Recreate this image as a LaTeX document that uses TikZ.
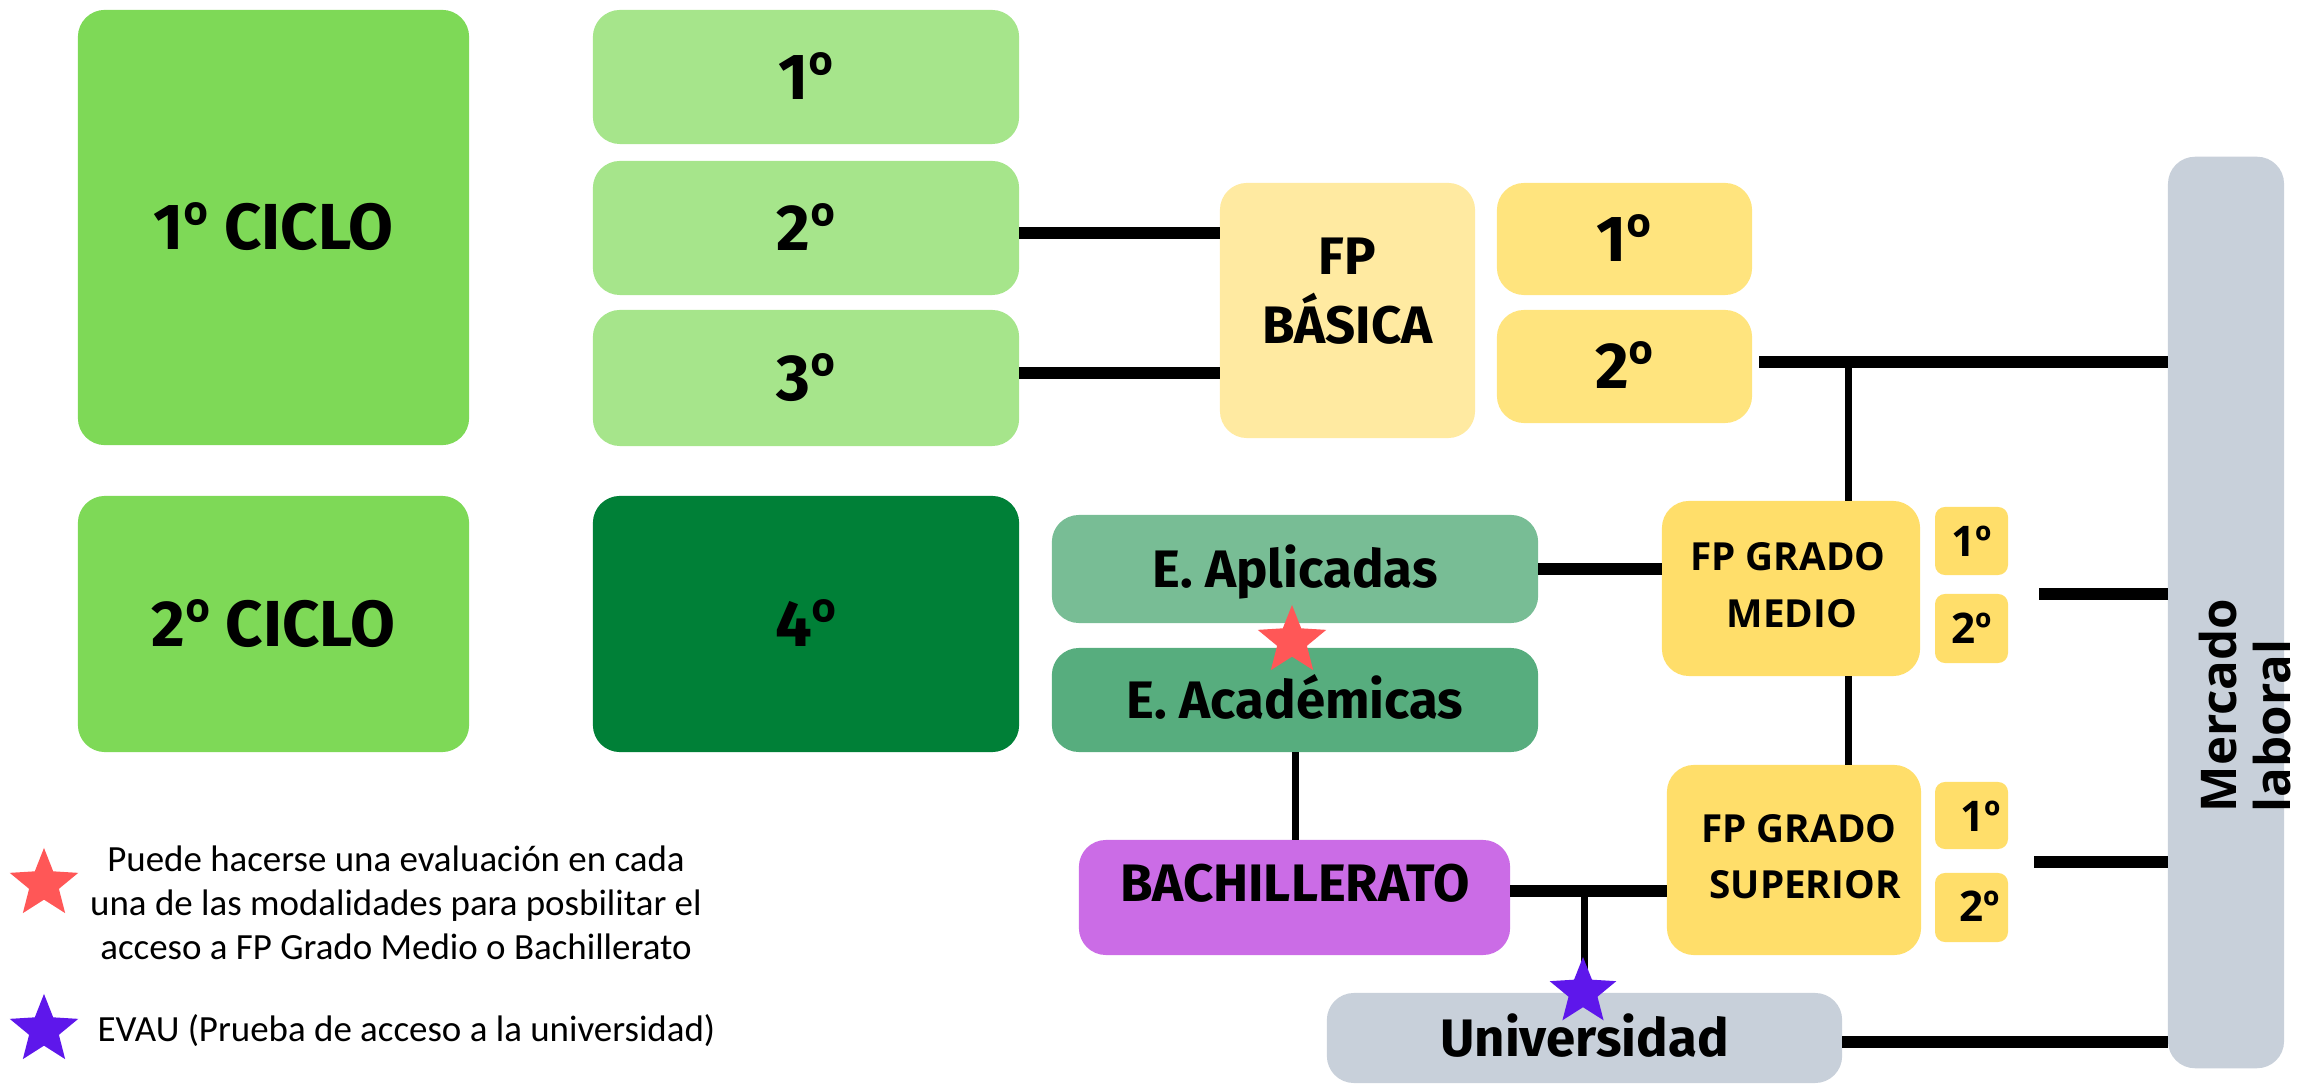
\documentclass[tikz,border=0pt]{standalone}
\usepackage{fontspec}
\setmainfont{Fira Sans}
\newfontfamily\osans{Open Sans}
\newfontfamily\carl{Carlito}
\newcommand\myord{{\osans º}}
\usetikzlibrary{shapes.geometric,calc}
\definecolor{cicloG}{HTML}{7ED957}
\definecolor{lightG}{HTML}{A6E58B}
\definecolor{darkG}{HTML}{008037}
\definecolor{aplG}{HTML}{78BD95}
\definecolor{acaG}{HTML}{57AD7E}
\definecolor{fpbY}{HTML}{FFEAA1}
\definecolor{fpbYb}{HTML}{FFE47E}
\definecolor{gmY}{HTML}{FFDE6A}
\definecolor{purpleB}{HTML}{CB6CE6}
\definecolor{grayB}{HTML}{C8D0DA}
\definecolor{redS}{HTML}{FF5757}
\definecolor{purS}{HTML}{5E17EB}
\begin{document}
\begin{tikzpicture}[x=0.01cm,y=-0.01cm,
  box/.style={rectangle, rounded corners=0.27cm, draw=none, inner sep=0pt, outer sep=0pt},
  smallbox/.style={rectangle, rounded corners=0.1cm, draw=none, inner sep=0pt, outer sep=0pt, fill=gmY, minimum width=0.73cm},
  big/.style={font=\bfseries\fontsize{18.5}{20}\selectfont, text height=12.7pt, text depth=0pt},
  mid/.style={font=\bfseries\fontsize{15}{18}\selectfont, text height=10.3pt, text depth=0pt, inner sep=0pt},
  wide/.style={font=\osans\bfseries\fontsize{11}{13}\selectfont, text height=7.9pt, text depth=0pt, inner sep=0pt},
  sm/.style={font=\osans\bfseries\fontsize{12}{14}\selectfont, text height=8.6pt, text depth=0pt, inner sep=0pt},
  merc/.style={font=\osans\bfseries\fontsize{14}{16}\selectfont, inner sep=0pt},
  leg/.style={font=\carl\fontsize{10.5}{12.6}\selectfont, inner sep=0pt},
  thickline/.style={line width=0.115cm},
  thinline/.style={line width=0.07cm},
  starR/.style={star, star points=5, star point ratio=2.3, inner sep=0pt, minimum size=0.72cm, fill=redS, draw=none},
  starP/.style={star, star points=5, star point ratio=2.3, inner sep=0pt, minimum size=0.72cm, fill=purS, draw=none},
]
\useasboundingbox (0,0) rectangle (2300,1086);

% boxes
\node[box, fill=cicloG, minimum width=3.91cm, minimum height=4.35cm, big] (c1) at (273.5,227.5) {1\myord{} CICLO};
\node[box, fill=cicloG, minimum width=3.91cm, minimum height=2.56cm, big] (c2) at (273.5,624) {2\myord{} CICLO};
\node[box, fill=lightG, minimum width=4.26cm, minimum height=1.34cm, big] (e1) at (806,77) {1\myord};
\node[box, fill=lightG, minimum width=4.26cm, minimum height=1.34cm, big] (e2) at (806,228) {2\myord};
\node[box, fill=lightG, minimum width=4.26cm, minimum height=1.36cm, big] (e3) at (806,378) {3\myord};
\node[box, fill=darkG, minimum width=4.26cm, minimum height=2.56cm, big] (e4) at (806,624) {4\myord};
\node[box, fill=fpbY, minimum width=2.55cm, minimum height=2.55cm] (fpb) at (1347.5,310.5) {};
\node[box, fill=fpbYb, minimum width=2.55cm, minimum height=1.12cm, big] (fpb1) at (1624.5,239) {1\myord};
\node[box, fill=fpbYb, minimum width=2.55cm, minimum height=1.13cm, big] (fpb2) at (1624.5,366.5) {2\myord};
\node[box, fill=aplG, minimum width=4.86cm, minimum height=1.08cm, mid] (apl) at (1295,569) {E. Aplicadas};
\node[box, fill=acaG, minimum width=4.86cm, minimum height=1.04cm, mid] (aca) at (1295,700) {E. Académicas};
\node[box, fill=purpleB, minimum width=4.31cm, minimum height=1.15cm] (bach) at (1294.5,897.5) {};
\node[box, fill=gmY, minimum width=2.58cm, minimum height=1.75cm] (gm) at (1791,588.5) {};
\node[smallbox, minimum height=0.68cm, sm] (gm1) at (1971.5,541) {1º};
\node[smallbox, minimum height=0.69cm, sm] (gm2) at (1971.5,628.5) {2º};
\node[box, fill=gmY, minimum width=2.54cm, minimum height=1.90cm] (gs) at (1794,860) {};
\node[smallbox, minimum height=0.67cm] (gs1) at (1971.5,815.5) {};
\node[smallbox, minimum height=0.69cm] (gs2) at (1971.5,907.5) {};
\node[box, fill=grayB, minimum width=5.15cm, minimum height=0.90cm, mid] (uni) at (1584.5,1038) {Universidad};
\node[box, fill=grayB, minimum width=1.16cm, minimum height=9.11cm] (mer) at (2226,612.5) {};

% texts
\node[mid] (fpbA) at (1347.5,256) {FP};
\node[mid] (fpbB) at (1347.5,325) {BÁSICA};
\node[mid] (bachT) at (1295,883) {BACHILLERATO};
\node[wide] (gmA) at (1788,557) {FP GRADO};
\node[wide] (gmB) at (1792,614) {MEDIO};
\node[wide] (gsA) at (1799,828.5) {FP GRADO};
\node[wide] (gsB) at (1805,885) {SUPERIOR};
\node[sm] (gs1T) at (1981,816) {1º};
\node[sm] (gs2T) at (1980,906) {2º};
\node[merc, rotate=90, anchor=base west] (merA) at (2236,813) {Mercado};
\node[merc, rotate=90, anchor=base west] (merB) at (2290,813) {laboral};

% connectors
\coordinate (a1) at (1759,362);
\coordinate (j1) at (1848,362);
\coordinate (g1) at (2039,594);
\coordinate (g2) at (2034,862);
\coordinate (b1) at (1510,891);
\coordinate (b2) at (1584,891);
\draw[thickline] ([yshift=-0.05cm]e2.east) -- ([yshift=-0.05cm]e2.east -| fpb.west);
\draw[thickline] ([yshift=0.05cm]e3.east) -- ([yshift=0.05cm]e3.east -| fpb.west);
\draw[thickline] (a1) -- (a1 -| mer.west);
\draw[thinline] (j1) -- (j1 |- gm.north);
\draw[thinline] (j1 |- gm.south) -- (j1 |- gs.north);
\draw[thickline] (apl.east) -- (apl.east -| gm.west);
\draw[thickline] (g1) -- (g1 -| mer.west);
\draw[thickline] (g2) -- (g2 -| mer.west);
\draw[thinline] (aca.south) -- (aca.south |- bach.north);
\draw[thickline] (b1) -- (b1 -| gs.west);
\draw[thinline] (b2) -- (b2 |- uni.north);
\draw[thickline] ([yshift=-0.04cm]uni.east) -- ([yshift=-0.04cm]uni.east -| mer.west);

% stars
\node[starR] (rstar) at (1292,641) {};
\node[starP, minimum size=0.70cm] (ustar) at (1583,992) {};

% legend
\node[starR] (ls1) at (44,884) {};
\node[starP] (ls2) at (44,1030) {};
\node[leg, align=center] (legA) at (396,903) {Puede hacerse una evaluación en cada\\una de las modalidades para posbilitar el\\acceso a FP Grado Medio o Bachillerato};
\node[leg, anchor=west] (legB) at (97,1031) {EVAU (Prueba de acceso a la universidad)};
\end{tikzpicture}
\end{document}
